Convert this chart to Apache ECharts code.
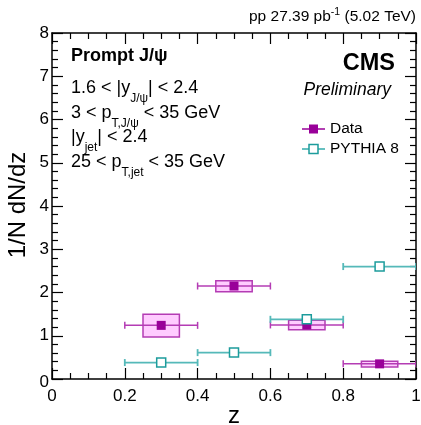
<!DOCTYPE html>
<html><head><meta charset="utf-8">
<script src="https://cdn.jsdelivr.net/npm/echarts@6/dist/echarts.min.js"></script>
<style>html,body{margin:0;padding:0;background:#fff}#c{width:421px;height:425px}</style>
</head><body><div id="c"></div>
<script>
// ---- data ----
const zCenters      = [0.3, 0.5, 0.7, 0.9];
const zHalfWidth    = [0.1, 0.1, 0.1, 0.1];
const dataValues    = [1.24, 2.15, 1.25, 0.35];
const dataSysLow    = [0.97, 2.02, 1.14, 0.28];
const dataSysHigh   = [1.50, 2.27, 1.36, 0.41];
const sysBoxHalfWidth = [0.05, 0.05, 0.05, 0.05];
const pythiaValues  = [0.38, 0.61, 1.38, 2.60];
const xTickValues   = [0, 0.2, 0.4, 0.6, 0.8, 1];
const yTickValues   = [0, 1, 2, 3, 4, 5, 6, 7, 8];

const FONT = '"Liberation Sans", Arial, Helvetica, sans-serif';
const DATA_COL = '#990099';
const BOX_FILL = '#ffccff';
const BOX_EDGE = '#b43cb4';
const PY_LINE = '#55b9b9';
const PY_MARK = '#1c9c9c';

const dataRows = zCenters.map((z, i) => [z, dataValues[i], zHalfWidth[i], dataSysLow[i], dataSysHigh[i], sysBoxHalfWidth[i]]);
const pyRows = zCenters.map((z, i) => [z, pythiaValues[i], zHalfWidth[i]]);

function hBar(api, x, y, xe, color, width, cap) {
  const l = api.coord([x - xe, y]), r = api.coord([x + xe, y]);
  return [
    {type: 'line', shape: {x1: l[0], y1: l[1], x2: r[0], y2: r[1]}, style: {stroke: color, lineWidth: width}},
    {type: 'line', shape: {x1: l[0], y1: l[1] - cap, x2: l[0], y2: l[1] + cap}, style: {stroke: color, lineWidth: width}},
    {type: 'line', shape: {x1: r[0], y1: r[1] - cap, x2: r[0], y2: r[1] + cap}, style: {stroke: color, lineWidth: width}}
  ];
}

function renderData(params, api) {
  const x = api.value(0), y = api.value(1), xe = api.value(2), lo = api.value(3), hi = api.value(4), bw = api.value(5);
  const bl = api.coord([x - bw, lo]), tr = api.coord([x + bw, hi]);
  const c = api.coord([x, y]);
  const s = 9;
  const children = [];
  children.push({type: 'rect', shape: {x: bl[0], y: tr[1], width: tr[0] - bl[0], height: bl[1] - tr[1]},
    style: {fill: BOX_FILL, stroke: BOX_EDGE, lineWidth: 1.5}});
  hBar(api, x, y, xe, BOX_EDGE, 1.5, 3.5).forEach(e => children.push(e));
  children.push({type: 'rect', shape: {x: c[0] - s / 2, y: c[1] - s / 2, width: s, height: s}, style: {fill: DATA_COL}});
  return {type: 'group', children};
}

function renderPythia(params, api) {
  const x = api.value(0), y = api.value(1), xe = api.value(2);
  const c = api.coord([x, y]);
  const s = 9;
  const children = hBar(api, x, y, xe, PY_LINE, 1.8, 3.5);
  children.push({type: 'rect', shape: {x: c[0] - s / 2, y: c[1] - s / 2, width: s, height: s},
    style: {fill: '#fff', stroke: PY_MARK, lineWidth: 1.5}});
  return {type: 'group', children};
}

function axisCommon(extra) {
  return Object.assign({
    type: 'value',
    splitLine: {show: false},
    axisLine: {show: true, onZero: false, lineStyle: {color: '#000', width: 1.5}},
    axisTick: {show: true, inside: true, length: 11, lineStyle: {color: '#000', width: 1.2}},
    axisLabel: {show: true, color: '#000', fontSize: 17, fontFamily: FONT}
  }, extra);
}

const chart = echarts.init(document.getElementById('c'), null, {renderer: 'canvas'});

function richStyles() {
  return {
    n: {fontSize: 18, fontFamily: FONT, color: '#000', lineHeight: 20},
    s: {fontSize: 12, fontFamily: FONT, color: '#000', lineHeight: 13, padding: [22, 0, 0, 0]},
    u: {fontSize: 10.5, fontFamily: FONT, color: '#000', lineHeight: 11, padding: [0, 0, 10, 0]},
    t: {fontSize: 15.5, fontFamily: FONT, color: '#000', lineHeight: 17}
  };
}
const minorX = {show: true, splitNumber: 4, length: 6, lineStyle: {color: '#000', width: 1.2}};
const minorY = {show: true, splitNumber: 5, length: 6, lineStyle: {color: '#000', width: 1.2}};

const option = {
  animation: false,
  backgroundColor: '#fff',
  grid: {left: 52, right: 5, top: 33, bottom: 46, containLabel: false, outerBoundsMode: 'none'},
  xAxis: [
    axisCommon({position: 'bottom', min: xTickValues[0], max: xTickValues[xTickValues.length - 1],
      interval: xTickValues[1] - xTickValues[0], minorTick: minorX,
      axisLabel: {show: true, color: '#000', fontSize: 17, fontFamily: FONT, margin: 9}}),
    axisCommon({position: 'top', min: xTickValues[0], max: xTickValues[xTickValues.length - 1],
      interval: xTickValues[1] - xTickValues[0], minorTick: minorX, axisLabel: {show: false}})
  ],
  yAxis: [
    axisCommon({position: 'left', min: yTickValues[0], max: yTickValues[yTickValues.length - 1],
      interval: yTickValues[1] - yTickValues[0], minorTick: minorY,
      axisLabel: {show: true, color: '#000', fontSize: 17, fontFamily: FONT, margin: 3,
        formatter: v => (v === 0 ? '{z|0}' : String(v)),
        rich: {z: {fontSize: 17, fontFamily: FONT, color: '#000', padding: [6, 0, 0, 0]}}}}),
    axisCommon({position: 'right', min: yTickValues[0], max: yTickValues[yTickValues.length - 1],
      interval: yTickValues[1] - yTickValues[0], minorTick: minorY, axisLabel: {show: false}})
  ],
  series: [
    {type: 'custom', name: 'Data', xAxisIndex: 0, yAxisIndex: 0, renderItem: renderData,
      data: dataRows, encode: {x: 0, y: 1}, clip: true, z: 2},
    {type: 'custom', name: 'PYTHIA 8', xAxisIndex: 0, yAxisIndex: 0, renderItem: renderPythia,
      data: pyRows, encode: {x: 0, y: 1}, clip: true, z: 3}
  ],
  graphic: [
    // axis titles
    {type: 'text', x: 234, y: 416, style: {text: 'z', fontSize: 24, fontFamily: FONT, fill: '#000', align: 'center', verticalAlign: 'middle'}},
    {type: 'text', x: 18, y: 205, rotation: Math.PI / 2, style: {text: '1/N dN/dz', fontSize: 24, fontFamily: FONT, fill: '#000', align: 'center', verticalAlign: 'middle'}},
    // top label
    {type: 'text', x: 416, y: 17, style: {text: '{t|pp 27.39 pb}{u|-1}{t| (5.02 TeV)}', rich: richStyles(), align: 'right', verticalAlign: 'middle'}},
    // CMS
    {type: 'text', x: 395, y: 64, style: {text: 'CMS', fontSize: 23.5, fontWeight: 'bold', fontFamily: FONT, fill: '#000', align: 'right', verticalAlign: 'middle'}},
    {type: 'text', x: 391, y: 90, style: {text: 'Preliminary', fontSize: 17.5, fontStyle: 'italic', fontFamily: FONT, fill: '#000', align: 'right', verticalAlign: 'middle'}},
    // selection text
    {type: 'text', x: 71, y: 56, style: {text: 'Prompt J/ψ', fontSize: 18, fontWeight: 'bold', fontFamily: FONT, fill: '#000', align: 'left', verticalAlign: 'middle'}},
    {type: 'text', x: 71, y: 88, style: {text: '{n|1.6 < |y}{s|J/ψ}{n|| < 2.4}', rich: richStyles(), align: 'left', verticalAlign: 'middle'}},
    {type: 'text', x: 71, y: 113, style: {text: '{n|3 < p}{s|T,J/ψ}{n| < 35 GeV}', rich: richStyles(), align: 'left', verticalAlign: 'middle'}},
    {type: 'text', x: 71, y: 137, style: {text: '{n||y}{s|jet}{n|| < 2.4}', rich: richStyles(), align: 'left', verticalAlign: 'middle'}},
    {type: 'text', x: 71, y: 162, style: {text: '{n|25 < p}{s|T,jet}{n| < 35 GeV}', rich: richStyles(), align: 'left', verticalAlign: 'middle'}},
    // legend
    {type: 'line', shape: {x1: 302, y1: 129, x2: 325, y2: 129}, style: {stroke: DATA_COL, lineWidth: 1.5}},
    {type: 'rect', shape: {x: 309, y: 124.5, width: 9, height: 9}, style: {fill: DATA_COL}},
    {type: 'text', x: 330, y: 129, style: {text: 'Data', fontSize: 15.5, fontFamily: FONT, fill: '#000', align: 'left', verticalAlign: 'middle'}},
    {type: 'line', shape: {x1: 302, y1: 149, x2: 325, y2: 149}, style: {stroke: PY_LINE, lineWidth: 1.8}},
    {type: 'rect', shape: {x: 309, y: 144.5, width: 9, height: 9}, style: {fill: '#fff', stroke: PY_MARK, lineWidth: 1.5}},
    {type: 'text', x: 330, y: 149, style: {text: 'PYTHIA 8', fontSize: 15.5, fontFamily: FONT, fill: '#000', align: 'left', verticalAlign: 'middle'}}
  ]
};
chart.setOption(option);
</script>
</body></html>
